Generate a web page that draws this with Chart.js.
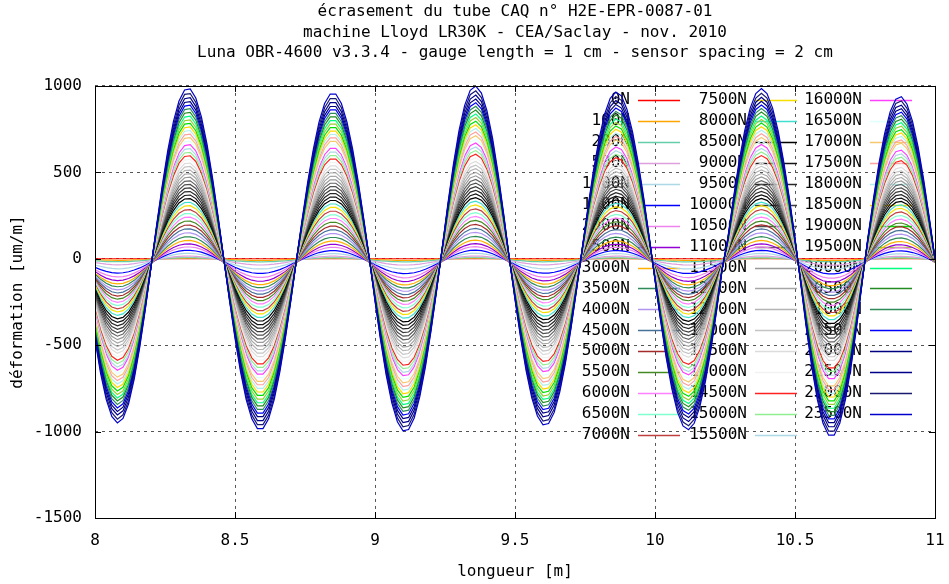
<!DOCTYPE html>
<html>
<head>
<meta charset="utf-8">
<script src="https://cdn.jsdelivr.net/npm/chart.js@4.4.1/dist/chart.umd.min.js"></script>
<style>
  html, body { margin: 0; padding: 0; background: #fff; }
  #wrap { width: 949px; height: 584px; }
</style>
</head>
<body>
<div id="wrap"><canvas id="c" width="949" height="584"></canvas></div>
<script>
// ---- data ----

// load steps (N), one curve each
var loads = [0, 100, 200, 500, 1000, 1500, 2000, 2500, 3000, 3500, 4000, 4500,
  5000, 5500, 6000, 6500, 7000, 7500, 8000, 8500, 9000, 9500, 10000, 10500,
  11000, 11500, 12000, 12500, 13000, 13500, 14000, 14500, 15000, 15500, 16000,
  16500, 17000, 17500, 18000, 18500, 19000, 19500, 20000, 20500, 21000, 21500,
  22000, 22500, 23000, 23500];

// relative amplitude of each curve (per mille of the 23500N curve)
var gains = [0, 6, 12, 26, 46, 68, 90, 110, 130, 150, 171, 192, 213, 234, 255,
  276, 297, 318, 339, 360, 381, 402, 423, 444, 465, 486, 507, 528, 549, 570,
  591, 612, 633, 654, 675, 696, 717, 738, 759, 780, 801, 822, 843, 864, 885,
  906, 927, 950, 975, 1000];

// small negative offset seen on the low load curves (um/m)
var bias = [0, -3, -6, -10, -14, -18, -20, -22, -22, -20, -18, -16, -14, -12,
  -10, -9, -8, -6, -6, -6, -6, -6, -6, -6, -6, -6, -6, -6, -6, -6, -6, -6, -6,
  -6, -4, -4, -4, -4, -4, -4, -4, -4, -4, -2, -2, -2, -2, -2, -2, 0];

// 23500N curve, one value per sensor (2 cm spacing from 8 m to 11 m)
var shape = [
  -468, -663, -814, -912, -950, -924, -839, -697, -510, -289, -48,
  193, 422, 627, 793, 913, 977, 983, 930, 821, 664, 466, 241, 0,
  -237, -460, -656, -815, -926, -983, -983, -926, -815, -656, -460, -237, 0,
  229, 446, 636, 790, 898, 953, 953, 898, 790, 636, 446, 229, 0,
  -244, -473, -674, -834, -943, -996, -988, -921, -798, -627, -418, -184,
  64, 315, 546, 741, 886, 975, 999, 959, 855, 696, 491, 254, 0,
  -235, -456, -650, -805, -910, -961, -953, -889, -770, -605, -403, -178,
  59, 292, 509, 693, 836, 928, 965, 943, 864, 733, 558, 349, 119,
  -122, -358, -572, -751, -886, -967, -989, -952, -857, -711, -522, -300, -60,
  119, 350, 559, 738, 872, 956, 985, 956, 872, 738, 559, 350, 119,
  -135, -394, -627, -817, -952, -1021, -1021, -952, -817, -627, -394, -135,
  118, 346, 553, 724, 851, 923, 938, 894, 794, 644, 453, 234, 0
];

// sensor positions along the tube (m)
var positions = [];
for (var i = 0; i < shape.length; i++) {
  positions.push(Math.round((8 + i * 0.02) * 100) / 100);
}

var palette = [
  '#ff0000', '#ffa500', '#66cdaa', '#dda0dd', '#add8e6', '#0000ff', '#ee82ee', '#9400d3',
  '#ffb000', '#2e8b57', '#b094f0', '#46729a', '#a52a2a', '#448a22', '#ff80ff', '#80ffd0',
  '#c04040', '#f5e000', '#40e0d0', '#000000', '#141414', '#282828', '#3c3c3c', '#505050',
  '#646464', '#999999', '#a6a6a6', '#b4b4b4', '#c4c4c4', '#dcdcdc', '#f2f2f2', '#ff2020',
  '#90ee90', '#add8e6', '#ff40ff', '#e0ffff', '#f5c870', '#ffa0a0', '#b0eeee', '#ffd700',
  '#00e000', '#9acd32', '#00ff7f', '#228b22', '#2e8b57', '#0000ff', '#000080', '#00008b',
  '#191970', '#0000cd'
];

var titleLines = [
  'écrasement du tube CAQ n° H2E-EPR-0087-01',
  'machine Lloyd LR30K - CEA/Saclay - nov. 2010',
  'Luna OBR-4600 v3.3.4 - gauge length = 1 cm - sensor spacing = 2 cm'
];

var MONO = "'DejaVu Sans Mono', monospace";

// ---- datasets ----
var datasets = loads.map(function (load, k) {
  var pts = positions.map(function (x, i) {
    return { x: x, y: Math.round(shape[i] * gains[k] / 1000 + bias[k]) };
  });
  return {
    label: load + 'N',
    data: pts,
    borderColor: palette[k],
    borderWidth: 1.2,
    pointRadius: 0,
    tension: 0,
    fill: false,
    order: loads.length - k   // heaviest load drawn last (on top)
  };
});

// gnuplot-like key: 3 columns, drawn under the curves
var keyPlugin = {
  id: 'gnuKey',
  beforeDatasetsDraw: function (chart) {
    var ctx = chart.ctx, area = chart.chartArea;
    var colRight = [area.right - 305, area.right - 188, area.right - 73];
    ctx.save();
    ctx.font = '16px ' + MONO;
    ctx.textAlign = 'right';
    ctx.textBaseline = 'middle';
    chart.data.datasets.forEach(function (ds, idx) {
      var col = Math.floor(idx / 17), row = idx % 17;
      var y = area.top + 14 + row * 20.95;
      var xr = colRight[col];
      ctx.fillStyle = '#000';
      ctx.fillText(ds.label, xr, y);
      ctx.strokeStyle = ds.borderColor;
      ctx.lineWidth = 1.5;
      ctx.beginPath();
      ctx.moveTo(xr + 8, Math.round(y) + 0.5);
      ctx.lineTo(xr + 50, Math.round(y) + 0.5);
      ctx.stroke();
    });
    ctx.restore();
  }
};

// frame with inward ticks on all four sides
var framePlugin = {
  id: 'frame',
  afterDatasetsDraw: function (chart) {
    var ctx = chart.ctx, a = chart.chartArea;
    var xs = chart.scales.x, ys = chart.scales.y;
    ctx.save();
    ctx.strokeStyle = '#000';
    ctx.lineWidth = 1;
    ctx.strokeRect(Math.round(a.left) + 0.5, Math.round(a.top) + 0.5,
      Math.round(a.right - a.left), Math.round(a.bottom - a.top));
    ctx.beginPath();
    xs.ticks.forEach(function (t) {
      var px = Math.round(xs.getPixelForValue(t.value)) + 0.5;
      ctx.moveTo(px, a.bottom); ctx.lineTo(px, a.bottom - 6);
      ctx.moveTo(px, a.top); ctx.lineTo(px, a.top + 6);
    });
    ys.ticks.forEach(function (t) {
      var py = Math.round(ys.getPixelForValue(t.value)) + 0.5;
      ctx.moveTo(a.left, py); ctx.lineTo(a.left + 6, py);
      ctx.moveTo(a.right, py); ctx.lineTo(a.right - 6, py);
    });
    ctx.stroke();
    ctx.restore();
  }
};

var tickFont = { family: MONO, size: 16, weight: 'normal' };

new Chart(document.getElementById('c'), {
  type: 'line',
  data: { datasets: datasets },
  options: {
    responsive: false,
    animation: false,
    events: [],
    layout: { padding: 0 },
    plugins: {
      legend: { display: false },
      tooltip: { enabled: false },
      title: {
        display: true,
        text: titleLines,
        fullSize: false,
        color: '#000',
        font: { family: MONO, size: 16, weight: 'normal', lineHeight: 1.28 },
        padding: { top: 2, bottom: 22.5 }
      }
    },
    scales: {
      x: {
        type: 'linear',
        min: 8,
        max: 11,
        afterFit: function (scale) {
          scale.height = 66;
          scale.paddingLeft = 0;
          scale.paddingRight = 14;
        },
        ticks: {
          stepSize: 0.5,
          color: '#000',
          font: tickFont,
          padding: 13,
          maxRotation: 0,
          autoSkip: false,
          callback: function (v) { return String(v); }
        },
        grid: { color: '#555', lineWidth: 1, drawTicks: false },
        border: { display: false, dash: [3, 4] },
        title: {
          display: true,
          text: 'longueur [m]',
          color: '#000',
          font: tickFont,
          padding: { top: 0, bottom: 3 }
        }
      },
      y: {
        type: 'linear',
        min: -1500,
        max: 1000,
        afterFit: function (scale) { scale.width = 95; },
        ticks: {
          stepSize: 500,
          color: '#000',
          font: tickFont,
          padding: 13,
          callback: function (v) { return String(v); }
        },
        grid: { color: '#555', lineWidth: 1, drawTicks: false },
        border: { display: false, dash: [3, 4] },
        title: {
          display: true,
          text: 'déformation [um/m]',
          color: '#000',
          font: tickFont,
          padding: { top: 8, bottom: 0 }
        }
      }
    }
  },
  plugins: [keyPlugin, framePlugin]
});
</script>
</body>
</html>
